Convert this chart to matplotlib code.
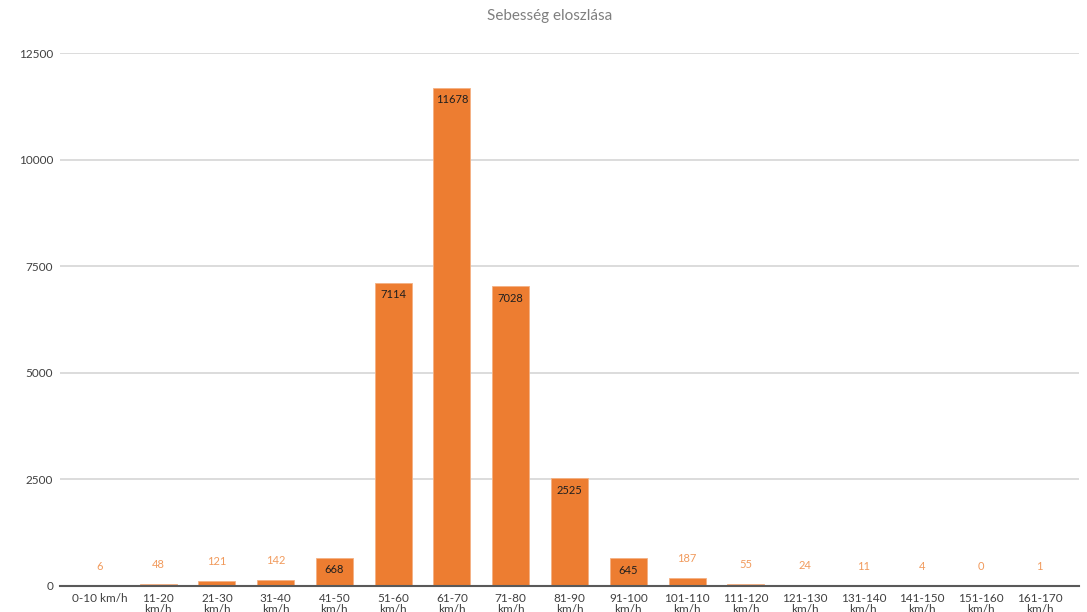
import matplotlib
matplotlib.use("Agg")
import matplotlib.pyplot as plt

categories = ["0-10 km/h", "11-20\nkm/h", "21-30\nkm/h", "31-40\nkm/h", "41-50\nkm/h",
              "51-60\nkm/h", "61-70\nkm/h", "71-80\nkm/h", "81-90\nkm/h", "91-100\nkm/h",
              "101-110\nkm/h", "111-120\nkm/h", "121-130\nkm/h", "131-140\nkm/h",
              "141-150\nkm/h", "151-160\nkm/h", "161-170\nkm/h"]
values = [6, 48, 121, 142, 668, 7114, 11678, 7028, 2525, 645, 187, 55, 24, 11, 4, 0, 1]
yticks = [0, 2500, 5000, 7500, 10000, 12500]
title = "Sebesség eloszlása"

plt.rcParams['font.family'] = ['Lato', 'DejaVu Sans']

fig = plt.figure(figsize=(10.87, 6.12), dpi=100)
ax = fig.add_axes([60/1087, (612-586)/612, (1079-60)/1087, (586-53)/612])

orange = "#ED7D31"
x = list(range(len(values)))
bars = ax.bar(x, values, width=0.63, color=orange, edgecolor="#F4B183", linewidth=0.6, zorder=3)

ax.set_xlim(-0.67, len(values) - 1 + 0.67)
ax.set_ylim(0, 12500)
ax.set_yticks(yticks)
ax.set_yticklabels([str(v) for v in yticks], fontsize=8.5, color="#404040")
ax.set_xticks(x)
ax.set_xticklabels(categories, fontsize=8.5, color="#404040", linespacing=1.0)
ax.tick_params(axis='both', length=0)
ax.tick_params(axis='x', pad=5)
ax.tick_params(axis='y', pad=5)

for s in ["top", "right", "left"]:
    ax.spines[s].set_visible(False)
ax.spines["bottom"].set_color("#595959")
ax.spines["bottom"].set_linewidth(1.5)
ax.spines["bottom"].set_zorder(4)

ax.yaxis.grid(True, color="#D9D9D9", linewidth=1.3, zorder=0)
ax.set_axisbelow(True)

for xi, v in zip(x, values):
    if v >= 500:
        ax.annotate(str(v), (xi, v), xytext=(0, -8.5), textcoords="offset points",
                    ha="center", va="center", fontsize=8, color="#1F1F1F", zorder=5)
    else:
        ax.annotate(str(v), (xi, v), xytext=(0, 14), textcoords="offset points",
                    ha="center", va="center", fontsize=8, color="#F19A5C", zorder=5)

fig.text(550/1087, 1 - 16/612, title, ha="center", va="center", fontsize=11, color="#7F7F7F")

fig.savefig("out.png", dpi=100)
